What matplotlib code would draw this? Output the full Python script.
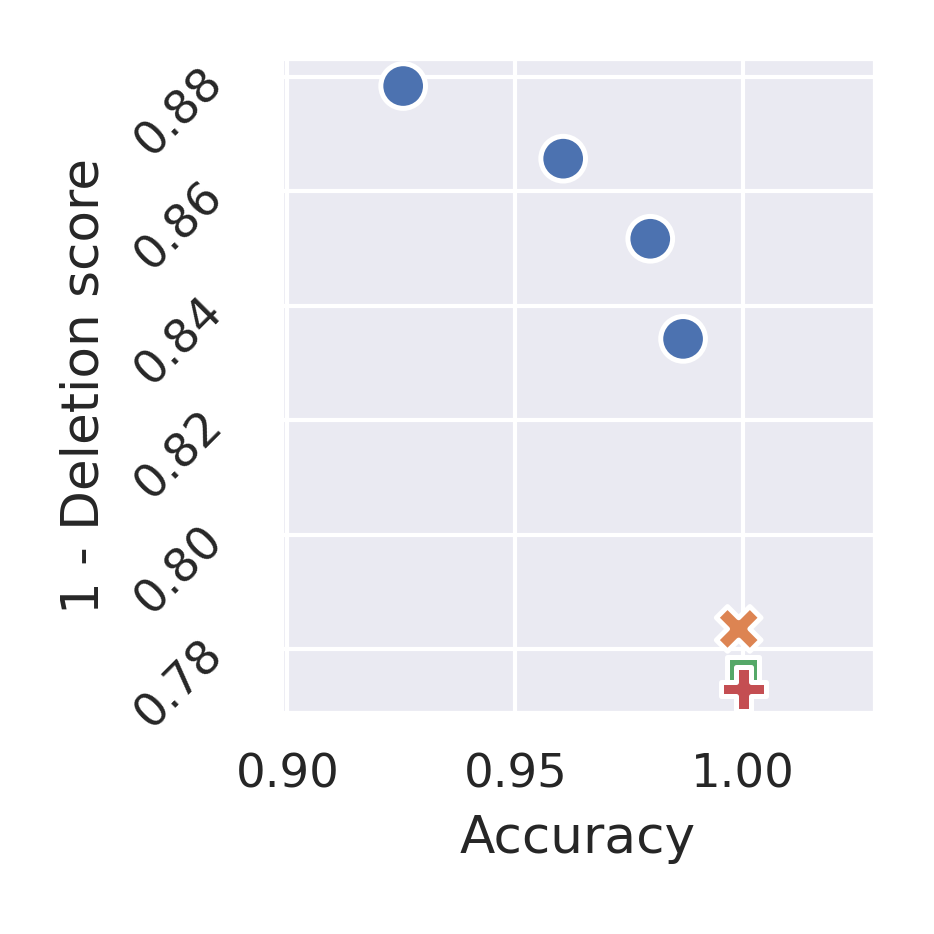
import matplotlib
matplotlib.use("Agg")
import matplotlib.pyplot as plt
import seaborn as sns

sns.set_theme(style="darkgrid", context="notebook")

methods = ["A", "B", "C", "D", "E", "F", "G"]
accuracy = [0.9254, 0.9605, 0.9796, 0.9868, 0.999, 1.0, 1.0]
deletion_1m = [0.8784, 0.8657, 0.8517, 0.8342, 0.7835, 0.7759, 0.7730]
groups = ["g0", "g0", "g0", "g0", "g1", "g2", "g3"]

pal = sns.color_palette("deep")
colors = {"g0": pal[0], "g1": pal[1], "g2": pal[2], "g3": pal[3]}

fig = plt.figure(figsize=(934/300, 934/300), dpi=300)
ax = fig.add_axes([281/934, 1-713/934, (875-281)/934, (713-58)/934])
sns.scatterplot(x=accuracy, y=deletion_1m, hue=groups, style=groups,
                palette=colors, markers=True, s=115, ax=ax, legend=False,
                edgecolor="white", linewidth=1.2)
ax.set_xlim(0.8986, 1.0289)
ax.set_ylim(0.7688, 0.8833)
ax.set_xticks([0.90, 0.95, 1.00])
ax.set_xticklabels(["0.90", "0.95", "1.00"], fontsize=11.2)
ax.set_yticks([0.78, 0.80, 0.82, 0.84, 0.86, 0.88])
ax.set_yticklabels(["0.78", "0.80", "0.82", "0.84", "0.86", "0.88"], rotation=45, fontsize=11.2)
ax.tick_params(axis="y", pad=5.8)
ax.set_xlabel("Accuracy", fontsize=12.4)
ax.set_ylabel("1 - Deletion score", fontsize=12.4)
fig.savefig("out.png", dpi=300)
